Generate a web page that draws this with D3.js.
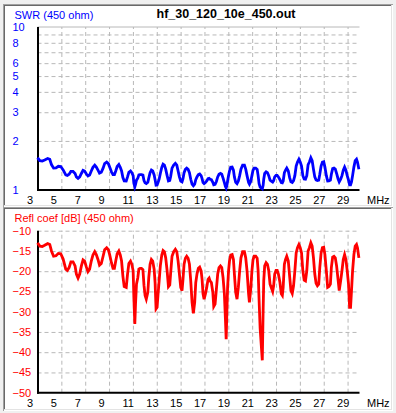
<!DOCTYPE html>
<html><head><meta charset="utf-8">
<script src="https://cdn.jsdelivr.net/npm/d3@7"></script>
<style>
html,body{margin:0;padding:0;background:#f0f0f0;}
svg{display:block;font-family:"Liberation Sans",Arial,sans-serif;}
</style></head>
<body><svg id="c" width="396" height="413"></svg>
<script>
const freq = [3.00,3.20,3.40,3.60,3.85,4.03,4.17,4.35,4.55,4.75,4.95,5.15,5.37,5.50,5.65,5.80,5.98,6.15,6.26,6.40,6.54,6.68,6.82,6.95,7.10,7.23,7.37,7.51,7.65,7.80,7.93,8.07,8.20,8.35,8.50,8.63,8.80,8.94,9.05,9.20,9.33,9.45,9.56,9.68,9.82,9.94,10.05,10.16,10.27,10.44,10.55,10.66,10.80,10.91,11.02,11.08,11.16,11.22,11.30,11.41,11.50,11.60,11.72,11.84,11.93,12.02,12.12,12.25,12.33,12.44,12.55,12.66,12.78,12.86,12.94,13.03,13.10,13.20,13.30,13.42,13.53,13.64,13.75,13.87,13.98,14.09,14.17,14.28,14.42,14.56,14.68,14.79,14.90,15.01,15.12,15.20,15.29,15.40,15.51,15.63,15.74,15.85,15.96,16.07,16.18,16.27,16.38,16.49,16.60,16.72,16.80,16.88,16.97,17.08,17.19,17.30,17.39,17.47,17.58,17.70,17.78,17.89,18.00,18.11,18.22,18.34,18.45,18.56,18.67,18.76,18.82,18.88,18.94,19.02,19.10,19.20,19.32,19.43,19.51,19.62,19.73,19.84,19.95,20.06,20.20,20.35,20.46,20.57,20.70,20.77,20.88,20.98,21.07,21.17,21.30,21.42,21.50,21.58,21.67,21.85,21.92,21.97,22.05,22.17,22.28,22.39,22.50,22.60,22.72,22.80,22.89,23.00,23.10,23.20,23.33,23.44,23.53,23.60,23.70,23.80,23.90,24.03,24.14,24.25,24.36,24.47,24.58,24.69,24.80,24.92,25.03,25.14,25.25,25.36,25.47,25.58,25.69,25.80,25.92,26.03,26.14,26.25,26.36,26.47,26.58,26.67,26.78,26.89,27.00,27.10,27.22,27.33,27.44,27.56,27.64,27.75,27.86,27.97,28.08,28.20,28.30,28.42,28.53,28.64,28.75,28.86,28.97,29.08,29.17,29.25,29.33,29.42,29.53,29.64,29.75,29.83,29.95];

const reflDb = [-13.0,-13.8,-13.9,-13.6,-13.2,-13.4,-15.0,-16.3,-16.2,-15.6,-15.7,-17.0,-19.5,-19.8,-19.1,-17.7,-17.7,-18.7,-20.7,-21.7,-20.7,-18.7,-17.2,-17.5,-19.0,-20.1,-19.5,-17.5,-16.0,-15.2,-15.9,-17.1,-18.5,-18.1,-16.3,-14.7,-14.2,-14.7,-15.9,-17.9,-19.3,-19.3,-17.5,-15.7,-15.0,-16.0,-17.5,-21.2,-23.8,-24.0,-20.7,-18.1,-17.5,-18.3,-19.9,-26.4,-33.0,-28.0,-23.2,-21.6,-19.5,-19.3,-19.3,-19.6,-23.5,-26.0,-26.9,-25.2,-21.6,-18.3,-17.1,-17.5,-19.5,-22.8,-29.3,-28.9,-26.0,-22.4,-18.7,-16.0,-14.9,-15.2,-16.7,-19.9,-23.8,-23.4,-20.3,-16.3,-15.2,-14.6,-15.2,-17.5,-20.7,-24.0,-24.8,-22.0,-18.3,-16.8,-16.3,-16.8,-18.3,-22.4,-27.7,-30.4,-27.7,-22.8,-20.6,-19.3,-19.0,-19.9,-22.0,-25.6,-26.9,-25.6,-24.0,-22.0,-21.7,-22.4,-22.8,-25.2,-28.7,-28.1,-24.4,-20.7,-19.1,-18.7,-19.1,-21.6,-25.6,-32.0,-36.8,-30.0,-24.0,-19.9,-17.5,-16.0,-15.9,-17.1,-20.7,-25.2,-26.9,-24.0,-19.9,-16.7,-15.2,-15.2,-16.7,-19.9,-25.6,-27.7,-24.4,-19.9,-17.2,-16.3,-16.3,-16.8,-19.9,-27.1,-34.2,-42.0,-29.7,-22.4,-18.7,-17.9,-18.3,-19.9,-23.2,-24.0,-25.0,-23.6,-20.7,-19.8,-19.8,-20.7,-22.8,-25.6,-26.0,-24.0,-18.3,-17.1,-16.3,-17.5,-21.2,-24.8,-25.5,-23.6,-19.9,-15.5,-14.2,-13.4,-14.2,-15.5,-19.9,-22.2,-22.4,-19.9,-15.0,-14.2,-13.0,-13.8,-16.7,-20.7,-23.0,-23.6,-23.2,-19.1,-15.5,-14.2,-14.1,-15.9,-19.9,-24.0,-23.8,-23.2,-19.1,-16.5,-16.3,-16.7,-18.7,-22.0,-24.8,-22.4,-19.9,-17.1,-15.9,-17.1,-19.9,-23.2,-28.9,-28.9,-24.8,-19.9,-15.9,-13.8,-13.4,-14.2,-16.7];

const swr = [1.577,1.513,1.506,1.528,1.560,1.544,1.432,1.362,1.367,1.398,1.393,1.329,1.237,1.228,1.249,1.300,1.300,1.263,1.203,1.179,1.203,1.263,1.320,1.308,1.253,1.219,1.237,1.308,1.377,1.421,1.382,1.324,1.270,1.284,1.362,1.451,1.484,1.451,1.382,1.292,1.243,1.243,1.308,1.393,1.432,1.377,1.308,1.191,1.138,1.135,1.203,1.284,1.308,1.277,1.225,1.101,1.046,1.083,1.149,1.182,1.237,1.243,1.243,1.234,1.143,1.106,1.095,1.116,1.182,1.277,1.324,1.308,1.237,1.156,1.071,1.074,1.106,1.164,1.263,1.377,1.439,1.421,1.342,1.225,1.138,1.145,1.214,1.362,1.421,1.458,1.421,1.308,1.203,1.135,1.122,1.173,1.277,1.338,1.362,1.338,1.277,1.164,1.086,1.062,1.086,1.156,1.206,1.243,1.253,1.225,1.173,1.111,1.095,1.111,1.135,1.173,1.179,1.164,1.156,1.116,1.076,1.082,1.128,1.203,1.249,1.263,1.249,1.182,1.111,1.051,1.029,1.065,1.135,1.225,1.308,1.377,1.382,1.324,1.203,1.116,1.095,1.135,1.225,1.342,1.421,1.421,1.342,1.225,1.111,1.086,1.128,1.225,1.320,1.362,1.362,1.338,1.225,1.092,1.040,1.016,1.068,1.164,1.263,1.292,1.277,1.225,1.149,1.135,1.119,1.142,1.203,1.228,1.228,1.203,1.156,1.111,1.106,1.135,1.277,1.324,1.362,1.308,1.191,1.122,1.112,1.142,1.225,1.404,1.484,1.544,1.484,1.404,1.225,1.168,1.164,1.225,1.432,1.484,1.577,1.513,1.342,1.203,1.152,1.142,1.149,1.249,1.404,1.484,1.491,1.382,1.225,1.135,1.138,1.149,1.249,1.352,1.362,1.342,1.263,1.173,1.122,1.164,1.225,1.324,1.382,1.324,1.225,1.149,1.074,1.074,1.122,1.225,1.382,1.513,1.544,1.484,1.342];

const xTicks = [3,5,7,9,11,13,15,17,19,21,23,25,27,29];
const xGrid = [5,7,9,11,13,15,17,19,21,23,25,27,29];
const swrTicks = [1,2,3,4,5,6,8,10];
const swrGrid = [2,3,4,5,6,7,8,9];
const reflTicks = [-10,-15,-20,-25,-30,-35,-40,-45,-50];
const reflGrid = [-10,-15,-20,-25,-30,-35,-40,-45];
const fileTitle = "hf_30_120_10e_450.out";
const swrTitle = "SWR (450 ohm)";
const reflTitle = "Refl coef [dB] (450 ohm)";
const unitLabel = "MHz";

const svg = d3.select("#c");
const FONT = 11;

function panel(y0, h){
  svg.append("rect").attr("x",3).attr("y",y0).attr("width",390).attr("height",h).attr("fill","#fff");
  svg.append("line").attr("x1",3).attr("x2",393).attr("y1",y0+0.5).attr("y2",y0+0.5).attr("stroke","#a0a0a0");
  svg.append("line").attr("x1",4).attr("x2",392).attr("y1",y0+1.5).attr("y2",y0+1.5).attr("stroke","#696969");
  svg.append("line").attr("x1",3.5).attr("x2",3.5).attr("y1",y0).attr("y2",y0+h).attr("stroke","#a0a0a0");
  svg.append("line").attr("x1",4.5).attr("x2",4.5).attr("y1",y0+1).attr("y2",y0+h-1).attr("stroke","#696969");
  svg.append("line").attr("x1",391.5).attr("x2",391.5).attr("y1",y0+1).attr("y2",y0+h-1).attr("stroke","#e3e3e3");
  svg.append("line").attr("x1",4).attr("x2",392).attr("y1",y0+h-1.5).attr("y2",y0+h-1.5).attr("stroke","#e3e3e3");
}
panel(4, 203);
panel(207, 204);

const x = d3.scaleLinear().domain([3,30]).range([37.5,359.5]);
const ySwr = d3.scaleLog().domain([1,10]).range([190,27]);
const yRefl = d3.scaleLinear().domain([-50,-10]).range([392.7,230.7]);

function drawPlot(y, gridVals, tickVals, topSolid, vals, color, xLabelY, fmt){
  const top = y.range()[1], bottom = y.range()[0];
  const g = svg.append("g");
  g.append("g").attr("transform",`translate(0,${bottom})`)
    .call(d3.axisBottom(x).tickValues(xGrid).tickSize(-(bottom-top)).tickFormat(""))
    .call(s=>s.select(".domain").remove())
    .selectAll("line").attr("stroke","#b8b8b8").attr("stroke-dasharray","4,3");
  g.append("g").attr("transform",`translate(${x.range()[0]},0)`)
    .call(d3.axisLeft(y).tickValues(gridVals).tickSize(-(x.range()[1]-x.range()[0])).tickFormat(""))
    .call(s=>s.select(".domain").remove())
    .selectAll("line").attr("stroke","#b8b8b8").attr("stroke-dasharray","4,3");
  if(topSolid){
    g.append("line").attr("x1",x.range()[0]).attr("x2",x.range()[1]).attr("y1",top).attr("y2",top).attr("stroke","#b8b8b8");
  }
  g.append("g").attr("transform","translate(12.5,0)")
    .call(d3.axisLeft(y).tickValues(tickVals).tickSize(0).tickFormat(fmt))
    .call(s=>s.select(".domain").remove())
    .selectAll("text").attr("x",0).attr("dy",3.5).attr("text-anchor","start")
    .attr("fill",color).attr("font-size",FONT).attr("font-family","Liberation Sans, Arial, sans-serif");
  g.append("g").attr("transform",`translate(0,${xLabelY})`)
    .call(d3.axisBottom(x).tickValues(xTicks).tickSize(0).tickFormat(d3.format("d")))
    .call(s=>s.select(".domain").remove())
    .selectAll("text").attr("x",-11).attr("y",0).attr("dy",0).attr("text-anchor","start")
    .attr("fill","#000").attr("font-size",FONT).attr("font-family","Liberation Sans, Arial, sans-serif");
  g.append("text").attr("x",367).attr("y",xLabelY).attr("font-size",FONT).attr("fill","#000").text(unitLabel);
  g.append("line").attr("x1",38).attr("x2",38).attr("y1",top).attr("y2",bottom+1).attr("stroke","#000").attr("stroke-width",2);
  g.append("line").attr("x1",37).attr("x2",x.range()[1]).attr("y1",bottom).attr("y2",bottom).attr("stroke","#000").attr("stroke-width",2);
  const line = d3.line().x((d,i)=>x(freq[i])).y(d=>y(d));
  g.append("path").datum(vals).attr("d",line).attr("fill","none").attr("stroke",color).attr("stroke-width",2.8);
}

drawPlot(ySwr, swrGrid, swrTicks, true, swr, "#0000ff", 204, d3.format("d"));
drawPlot(yRefl, reflGrid, reflTicks, false, reflDb, "#ff0000", 407, d3.format("d"));

svg.append("text").attr("x",14.5).attr("y",18.5).attr("font-size",FONT).attr("fill","#0000ff").text(swrTitle);
svg.append("text").attr("x",226).attr("y",18.3).attr("text-anchor","middle").attr("font-size",12.5).attr("font-weight","bold").attr("fill","#000").text(fileTitle);
svg.append("text").attr("x",14.5).attr("y",222).attr("font-size",FONT).attr("fill","#ff0000").text(reflTitle);
</script></body></html>
